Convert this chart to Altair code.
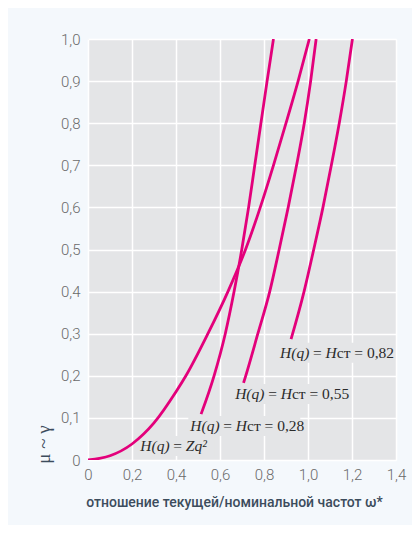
import altair as alt
import pandas as pd

# ---- data ----
curve_ids = ["Zq2", "Hst028", "Hst055", "Hst082"]

omega_zq2 = [0.0, 0.1, 0.2, 0.3, 0.4, 0.445, 0.545, 0.636, 0.716, 0.783, 0.843, 0.900, 0.955, 1.006]
mu_zq2    = [0.0, 0.01, 0.038, 0.088, 0.162, 0.2, 0.3, 0.4, 0.5, 0.6, 0.7, 0.8, 0.9, 1.0]

omega_028 = [0.514, 0.573, 0.624, 0.664, 0.699, 0.730, 0.758, 0.786, 0.814, 0.843]
mu_028    = [0.109, 0.2, 0.3, 0.4, 0.5, 0.6, 0.7, 0.8, 0.9, 1.0]

omega_055 = [0.707, 0.717, 0.772, 0.826, 0.869, 0.910, 0.948, 0.983, 1.012, 1.037]
mu_055    = [0.183, 0.2, 0.3, 0.4, 0.5, 0.6, 0.7, 0.8, 0.9, 1.0]

omega_082 = [0.923, 0.982, 1.026, 1.068, 1.106, 1.142, 1.174, 1.202]
mu_082    = [0.287, 0.4, 0.5, 0.6, 0.7, 0.8, 0.9, 1.0]

x_ticks = [0, 0.2, 0.4, 0.6, 0.8, 1.0, 1.2, 1.4]
y_ticks = [0, 0.1, 0.2, 0.3, 0.4, 0.5, 0.6, 0.7, 0.8, 0.9, 1.0]

label_omega = [0.238, 0.465, 0.669, 0.873]
label_mu    = [0.033, 0.081, 0.157, 0.255]
label_ital  = ["Zq²", "H", "H", "H"]
label_rest  = ["", "ст = 0,28", "ст = 0,55", "ст = 0,82"]

x_title = "отношение текущей/номинальной частот ω*"
y_title = "μ ~ γ"

# ---- tables ----
rows = []
for cid, ws, ms in zip(curve_ids,
                       [omega_zq2, omega_028, omega_055, omega_082],
                       [mu_zq2, mu_028, mu_055, mu_082]):
    for w, m in zip(ws, ms):
        rows.append({"curve": cid, "w": w, "m": m})
df = pd.DataFrame(rows)

lab = pd.DataFrame({"w": label_omega, "m": label_mu,
                    "p3": label_ital, "p4": label_rest})
lab_first = lab.iloc[:1]
lab_rest = lab.iloc[1:]

PLOT_BG = "#e4e5e7"
PANEL_BG = "#f4f8fc"
MAGENTA = "#e3007b"
TXT = "#2b2b2b"

label_expr = "datum.value == 0 ? '0' : replace(format(datum.value, '.1f'), '.', ',')"

x_axis = alt.Axis(values=x_ticks, labelExpr=label_expr, title=x_title,
                  domain=False, ticks=False, tickSize=0, labelFlush=False,
                  grid=True, gridColor="white", gridWidth=1.5,
                  labelFont="Roboto", labelFontWeight=300, labelFontSize=15,
                  labelColor="#6a6a6a", labelPadding=7,
                  titleFont="Roboto", titleFontWeight=500, titleFontSize=14,
                  titleColor="#3c4c5c", titleX=146, titleY=42,
                  titleBaseline="middle", titleAlign="center")
y_axis = alt.Axis(values=y_ticks, labelExpr=label_expr, title=y_title,
                  domain=False, ticks=False, tickSize=0, labelFlush=False,
                  grid=True, gridColor="white", gridWidth=1.5,
                  labelFont="Roboto", labelFontWeight=300, labelFontSize=15,
                  labelColor="#6a6a6a", labelPadding=8,
                  titleFont="Liberation Serif", titleFontWeight="normal",
                  titleFontSize=19, titleColor="#3c4c5c", titleAngle=270,
                  titleX=-45, titleY=405, titleBaseline="middle", titleAlign="center")

xscale = alt.Scale(domain=[0, 1.4], nice=False, zero=False)
yscale = alt.Scale(domain=[0, 1], nice=False)
X = alt.X("w:Q", scale=xscale, axis=x_axis)
Y = alt.Y("m:Q", scale=yscale, axis=y_axis)

rect1 = alt.Chart(lab_first).mark_rect(width=76, height=20, xOffset=36, color=PLOT_BG).encode(x=X, y=Y)
rect2 = alt.Chart(lab_rest).mark_rect(width=112, height=20, xOffset=54, color=PLOT_BG).encode(x=X, y=Y)

lines = alt.Chart(df).mark_line(color=MAGENTA, strokeWidth=2.8, interpolate="monotone", clip=True).encode(
    x=X, y=Y, detail="curve:N", order="m:Q")

common = dict(align="left", baseline="middle", font="Liberation Serif", fontSize=15.5, color=TXT)
t1 = alt.Chart(lab).mark_text(fontStyle="italic", **common).encode(x=X, y=Y, text=alt.value("H(q)"))
t2 = alt.Chart(lab).mark_text(dx=33, **common).encode(x=X, y=Y, text=alt.value("="))
t3 = alt.Chart(lab).mark_text(dx=45.5, fontStyle="italic", **common).encode(x=X, y=Y, text="p3:N")
t4 = alt.Chart(lab).mark_text(dx=56.7, **common).encode(x=X, y=Y, text="p4:N")

chart = alt.layer(rect1, rect2, lines, t1, t2, t3, t4).properties(
    width=308, height=421,
    autosize=alt.AutoSizeParams(type="none"),
    padding={"left": 80, "top": 31, "right": 16, "bottom": 65},
    background=PANEL_BG,
).configure_view(fill=PLOT_BG, strokeWidth=0)

chart.save("out.html", embed_options={"renderer": "svg", "actions": False})
